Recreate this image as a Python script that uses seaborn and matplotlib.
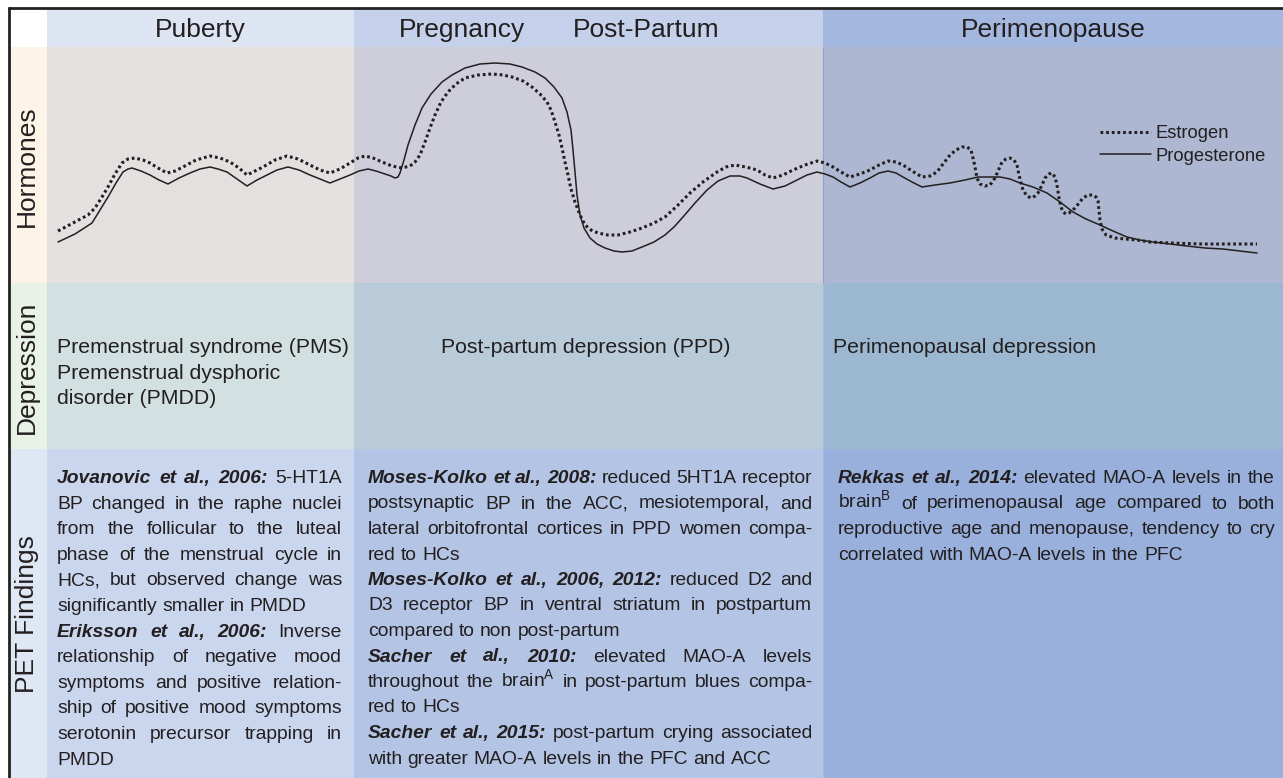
import matplotlib
matplotlib.use("Agg")
import matplotlib.pyplot as plt
import seaborn as sns
import pandas as pd

sns.set_style("white")
plt.rcParams['font.family'] = ['Liberation Sans', 'DejaVu Sans']
plt.rcParams['mathtext.fontset'] = 'custom'
plt.rcParams['mathtext.rm'] = 'Liberation Sans'

TXT = '#231f20'

# ---- data -------------------------------------------------------------
phases = ['Puberty', 'Pregnancy', 'Post-Partum', 'Perimenopause']
rows = ['Hormones', 'Depression', 'PET Findings']

# hormone curves (time, depth from panel top)
estrogen_t = [58, 75, 88, 95, 102, 108, 115, 122, 128, 135, 143, 150, 158, 167, 175, 183, 196,
              210, 220, 230, 239, 247, 255, 263, 275, 287, 298, 310, 320, 330, 340, 350, 358,
              365, 373, 382, 392, 402, 410, 415, 420, 425, 430, 435, 441, 448, 456, 465, 478,
              492, 503, 512, 523, 532, 540, 547, 551, 555, 559, 562, 565, 568, 571, 575, 580,
              585, 591, 598, 608, 618, 630, 642, 654, 665, 677, 690, 703, 717, 726, 735, 746,
              757, 765, 773, 783, 793, 805, 817, 825, 833, 841, 850, 860, 870, 879, 888, 896,
              903, 912, 922, 930, 937, 943, 950, 956, 962, 967, 971, 973, 975, 977, 980, 985,
              990, 995, 999, 1002, 1006, 1010, 1014, 1017, 1019, 1021, 1023, 1027, 1031, 1035,
              1038, 1042, 1045, 1049, 1052, 1055, 1057, 1059, 1061, 1063, 1066, 1069, 1075,
              1079, 1083, 1088, 1093, 1096, 1098, 1099, 1100, 1102, 1106, 1115, 1125, 1137,
              1150, 1170, 1203, 1257]
estrogen_v = [231, 222, 215, 208, 197, 187, 174, 163, 159, 158, 160, 163, 168, 173, 171, 167, 160,
              156, 158, 162, 168, 175, 171, 167, 160, 156, 159, 165, 170, 173, 169, 163, 158,
              156, 158, 162, 166, 168, 166, 162, 155, 142, 128, 115, 102, 92, 84, 78, 75,
              74, 75, 77, 81, 87, 94, 102, 110, 122, 135, 148, 162, 175, 189, 202, 215,
              225, 230, 233, 235, 235, 232, 228, 223, 217, 206, 193, 182, 172, 167, 165, 167,
              170, 175, 178, 175, 170, 165, 161, 163, 167, 172, 177, 174, 170, 165, 161, 162,
              165, 171, 177, 176, 172, 164, 155, 150, 147, 147, 150, 158, 167, 178, 184, 186,
              185, 178, 169, 162, 159, 158, 160, 165, 175, 183, 190, 196, 198, 196,
              193, 185, 178, 174, 173, 177, 185, 198, 207, 212, 214, 213, 208,
              203, 198, 195, 195, 197, 201, 210, 220, 229, 235, 238, 239, 240,
              242, 243, 244, 244]
progesterone_t = [58, 75, 92, 100, 108, 116, 123, 128, 132, 141, 150, 159, 168, 179, 190, 200,
                  210, 218, 227, 237, 247, 257, 267, 277, 288, 299, 310, 320, 330, 340, 350,
                  359, 368, 376, 385, 391, 395, 398, 400, 404, 408, 415, 422, 431, 442, 452,
                  465, 480, 495, 510, 522, 535, 545, 554, 562, 567, 571, 573, 575, 577, 580,
                  584, 590, 597, 605, 614, 622, 632, 642, 654, 665, 674, 683, 695, 707, 718,
                  730, 740, 747, 760, 773, 785, 797, 807, 817, 825, 833, 841, 850, 860, 870,
                  879, 888, 896, 903, 912, 922, 935, 950, 965, 978, 990, 1000, 1010, 1020,
                  1033, 1047, 1060, 1073, 1086, 1100, 1113, 1127, 1140, 1153, 1170, 1187,
                  1205, 1223, 1240, 1257]
progesterone_v = [242, 234, 223, 210, 197, 183, 172, 169, 168, 171, 175, 180, 184, 178, 173, 169,
                  167, 169, 172, 179, 186, 180, 175, 170, 167, 170, 175, 179, 183, 179, 175,
                  171, 169, 171, 174, 176, 178, 177, 173, 160, 145, 125, 108, 94, 82, 75,
                  68, 64, 63, 64, 67, 72, 78, 87, 98, 112, 130, 150, 172, 195, 215,
                  228, 238, 244, 248, 251, 252, 251, 247, 242, 235, 227, 217, 203, 190, 181,
                  176, 176, 178, 184, 189, 186, 180, 175, 172, 174, 177, 182, 187, 183, 178,
                  173, 171, 173, 177, 182, 187, 185, 183, 180, 177, 177, 177, 179, 183,
                  187, 193, 202, 212, 219, 225, 231, 237, 240, 242, 244, 246,
                  248, 249, 251, 253]

depression_text = [
    ["Premenstrual syndrome (PMS)", "Premenstrual dysphoric", "disorder (PMDD)"],
    ["Post-partum depression (PPD)"],
    ["Perimenopausal depression"],
]

# PET findings: (bold head, lines); the head starts the first line
pet_puberty = [
    ("Jovanovic et al., 2006:", ["5-HT1A", "BP changed in the raphe nuclei",
                                 "from the follicular to the luteal",
                                 "phase of the menstrual cycle in",
                                 "HCs, but observed change was",
                                 "significantly smaller in PMDD"]),
    ("Eriksson et al., 2006:", ["Inverse", "relationship of negative mood",
                                "symptoms and positive relation-",
                                "ship of positive mood symptoms",
                                "serotonin precursor trapping in", "PMDD"]),
]
pet_postpartum = [
    ("Moses-Kolko et al., 2008:", ["reduced 5HT1A receptor",
                                   "postsynaptic BP in the ACC, mesiotemporal, and",
                                   "lateral orbitofrontal cortices in PPD women compa-",
                                   "red to HCs"]),
    ("Moses-Kolko et al., 2006, 2012:", ["reduced D2 and",
                                         "D3 receptor BP in ventral striatum in postpartum",
                                         "compared to non post-partum"]),
    ("Sacher et al., 2010:", ["elevated MAO-A levels",
                              r"throughout the brain$^{\mathrm{A}}$ in post-partum blues compa-",
                              "red to HCs"]),
    ("Sacher et al., 2015:", ["post-partum crying associated",
                              "with greater MAO-A levels in the PFC and ACC"]),
]
pet_perimeno = [
    ("Rekkas et al., 2014:", ["elevated MAO-A levels in the",
                              r"brain$^{\mathrm{B}}$ of perimenopausal age compared to both",
                              "reproductive age and menopause, tendency to cry",
                              "correlated with MAO-A levels in the PFC"]),
]

# ---- layout -----------------------------------------------------------
W, H = 1283, 778
col_edges = [10, 47, 354, 823, 1283]
row_edges = [8, 47, 283, 449, 778]
cell_colors = [
    ['#ffffff', '#dde4f2', '#c5d1ea', '#a3b7df'],
    ['#fdf4e8', '#e4e0df', '#cdced9', '#aeb7d1'],
    ['#e9f2e6', '#d2e0e1', '#b9cbd9', '#9cb8d1'],
    ['#e0e7f4', '#cad6ed', '#b3c4e4', '#98b0db'],
]

fig = plt.figure(figsize=(W / 100, H / 100), dpi=100)
ax = fig.add_axes([0, 0, 1, 1])

for r in range(4):
    for c in range(4):
        ax.add_patch(plt.Rectangle((col_edges[c], row_edges[r]),
                                   col_edges[c + 1] - col_edges[c],
                                   row_edges[r + 1] - row_edges[r],
                                   facecolor=cell_colors[r][c], edgecolor='none', zorder=0))
ax.plot([823, 823], [47, 283], color='#8ea4cf', lw=0.8, zorder=1)
ax.plot([823, 823], [283, 778], color='#a9bddd', lw=0.6, zorder=1)
ax.plot([8, W], [7.5, 7.5], color='#222222', lw=2.0, solid_capstyle='butt', zorder=5)
ax.plot([9, 9], [6.5, H], color='#222222', lw=2.0, solid_capstyle='butt', zorder=5)

# headers
for name, xc in zip(phases, [200, 462, 646, 1053]):
    ax.text(xc, 37, name, fontsize=19, color=TXT, ha='center', va='baseline')
for name, yc in zip(rows, [166, 367, 614]):
    ax.text(27, yc, name, fontsize=19, color=TXT, ha='center', va='center', rotation=90)

# hormone curves
df_e = pd.DataFrame({'t': estrogen_t, 'v': estrogen_v})
df_p = pd.DataFrame({'t': progesterone_t, 'v': progesterone_v})
sns.lineplot(data=df_e, x='t', y='v', ax=ax, sort=False, estimator=None, color='#231f20',
             lw=2.2, linestyle=(0, (0.9, 0.95)), label='Estrogen', zorder=3)
sns.lineplot(data=df_p, x='t', y='v', ax=ax, sort=False, estimator=None, color='#231f20',
             lw=1.1, label='Progesterone', zorder=3)
ax.set_xlim(0, W)
ax.set_ylim(H, 0)
ax.axis('off')
leg = ax.legend(frameon=False, loc='upper left', bbox_to_anchor=(1100, 125),
                bbox_transform=ax.transData, fontsize=13.2, handlelength=2.8,
                handletextpad=0.25, labelspacing=0.3, borderpad=0, borderaxespad=0)
for t in leg.get_texts():
    t.set_color(TXT)

# depression row
dep_x = [57, 441, 833]
for lines, x0 in zip(depression_text, dep_x):
    for i, line in enumerate(lines):
        ax.text(x0, 353 + i * 25.5, line, fontsize=15.3, color=TXT, ha='left', va='baseline')

# PET findings, justified
renderer = fig.canvas.get_renderer()
PET_SIZE = 13.9


def draw_block(paras, x0, x1, y0, step):
    space = 0.278 * PET_SIZE * 100 / 72
    y = y0
    for head, lines in paras:
        for li, line in enumerate(lines):
            words = [(w, False) for w in line.split(' ')]
            if li == 0:
                words = [(w, True) for w in head.split(' ')] + words
            arts, widths = [], []
            for w, bold in words:
                t = ax.text(0, y, w, fontsize=PET_SIZE, color=TXT, ha='left', va='baseline',
                            fontweight='bold' if bold else 'normal',
                            fontstyle='italic' if bold else 'normal')
                arts.append(t)
                widths.append(t.get_window_extent(renderer).width)
            last = li == len(lines) - 1
            if last or len(words) == 1:
                gap = space
            else:
                gap = (x1 - x0 - sum(widths)) / (len(words) - 1)
            x = x0
            for t, w in zip(arts, widths):
                t.set_x(x)
                x += w + gap
            y += step


draw_block(pet_puberty, 57, 342, 483, 25.6)
draw_block(pet_postpartum, 368, 812, 483, 25.5)
draw_block(pet_perimeno, 838, 1275, 483, 25.5)

fig.savefig('out.png', dpi=100)
